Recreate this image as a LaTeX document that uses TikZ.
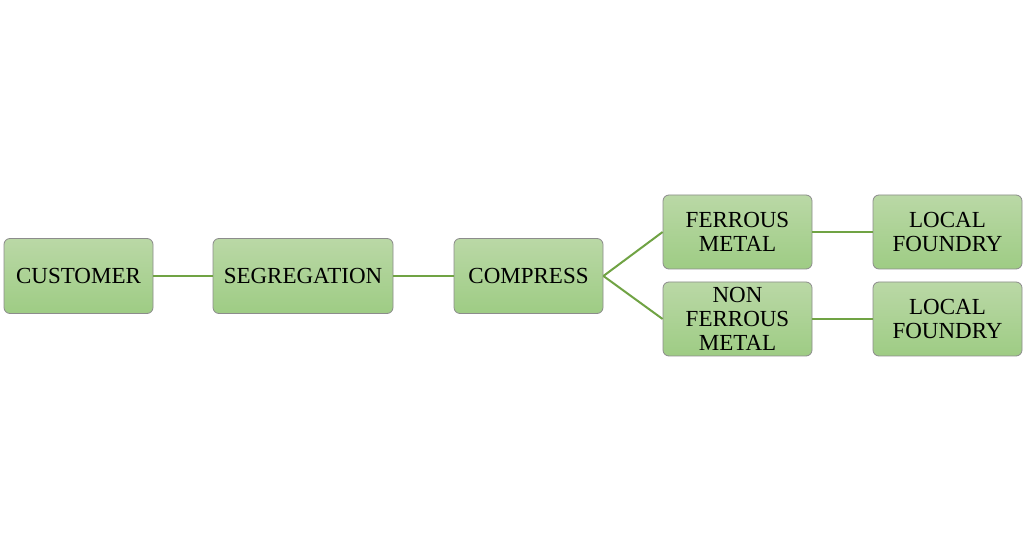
\documentclass[tikz,border=0pt]{standalone}
\usepackage{fontspec}
\setmainfont{Liberation Serif}
\definecolor{boxtop}{RGB}{186,216,166}
\definecolor{boxbot}{RGB}{158,204,132}
\definecolor{linkgreen}{RGB}{112,163,68}
\begin{document}
\begin{tikzpicture}[x=1pt,y=1pt,
  box/.style={draw=black!45, line width=0.8pt, rounded corners=6pt, top color=boxtop, bottom color=boxbot,
    minimum width=149pt, minimum height=75pt, align=center, inner sep=2pt,
    font=\fontsize{23}{24}\selectfont},
  wide/.style={minimum width=180pt},
  link/.style={draw=linkgreen, line width=2pt}]
\useasboundingbox (0,0) rectangle (1024,551);
\fill[white] (0,0) rectangle (1024,551);
\node[box] (cust) at (78.5,275) {CUSTOMER};
\node[box,wide] (seg) at (303,275) {SEGREGATION};
\node[box] (comp) at (528.5,275) {COMPRESS};
\node[box,minimum height=74pt] (fer) at (737.5,319) {FERROUS\\METAL};
\node[box,minimum height=74pt] (nfer) at (737.5,232) {NON\\FERROUS\\METAL};
\node[box,minimum height=74pt] (lf1) at (947.5,319) {LOCAL\\FOUNDRY};
\node[box,minimum height=74pt] (lf2) at (947.5,232) {LOCAL\\FOUNDRY};
\draw[link] (cust.east) -- (seg.west);
\draw[link] (seg.east) -- (comp.west);
\draw[link] (comp.east) -- (fer.west);
\draw[link] (comp.east) -- (nfer.west);
\draw[link] (fer.east) -- (lf1.west);
\draw[link] (nfer.east) -- (lf2.west);
\end{tikzpicture}
\end{document}
